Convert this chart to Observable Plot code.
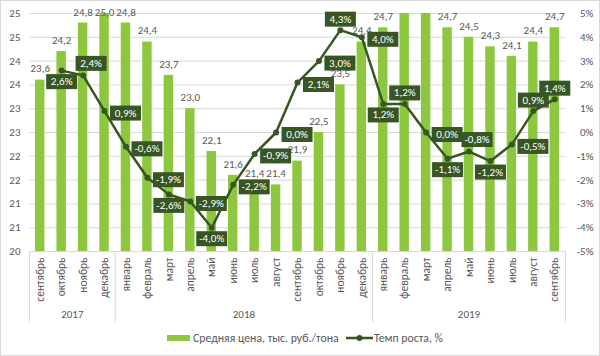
<!DOCTYPE html>
<html><head><meta charset="utf-8">
<script src="https://cdn.jsdelivr.net/npm/d3@7"></script>
<script src="https://cdn.jsdelivr.net/npm/@observablehq/plot@0.6"></script>
<style>
html,body{margin:0;padding:0;background:#fff;}
#wrap{width:598px;height:354px;border:1px solid #d9d9d9;position:relative;overflow:hidden;
  font-family:Carlito,Calibri,"Liberation Sans Narrow",Roboto,sans-serif;color:#595959;}
#legend{position:absolute;left:0;top:330px;height:14px;width:598px;font-size:11.8px;line-height:14px;}
#legend .item{position:absolute;top:0;display:flex;align-items:center;height:14px;white-space:nowrap;}
</style></head><body>
<div id="wrap"><div id="chart"></div><div id="legend"></div></div>
<script>
// ---- data ----
const months = ["сентябрь","октябрь","ноябрь","декабрь","январь","февраль","март","апрель","май","июнь","июль","август","сентябрь","октябрь","ноябрь","декабрь","январь","февраль","март","апрель","май","июнь","июль","август","сентябрь"];
const yearLabels = ["2017","2018","2019"];
const yearMonthCounts = [4, 12, 9];
const prices = [23.6,24.2,24.8,25.0,24.8,24.4,23.7,23.0,22.1,21.6,21.4,21.4,21.9,22.5,23.5,24.4,24.7,25.1,25.1,24.7,24.5,24.3,24.1,24.4,24.7];
const growth = [null,2.6,2.4,0.9,-0.6,-1.9,-2.6,-2.9,-4.0,-2.2,-0.9,0.0,2.1,3.0,4.3,4.0,1.2,1.2,0.0,-1.1,-0.8,-1.2,-0.5,0.9,1.4];
const growthLabelSide = [null,"b","ar","r","r","r","b","r","b","r","r","r","r","r","a","r","b","a","r","b","ar","b","r","a","a"];
const leftTicks = [20,20.5,21,21.5,22,22.5,23,23.5,24,24.5,25];
const rightTicks = [-5,-4,-3,-2,-1,0,1,2,3,4,5];
const seriesNames = ["Средняя цена, тыс. руб./тона","Темп роста, %"];

// ---- styling ----
const GREEN = "#8dc63f", DARK = "#375623", GRID = "#d9d9d9", TEXT = "#595959";
const FONT = 'Carlito, Calibri, "Liberation Sans Narrow", Roboto, sans-serif';
const FS = 11;
const YMIN = 20, YMAX = 25, GMIN = -5, GMAX = 5;
const g2y = g => YMIN + (g - GMIN) / (GMAX - GMIN) * (YMAX - YMIN);
const fmt1 = v => v.toFixed(1).replace(".", ",");

const idx = months.map((_, i) => i);
const gIdx = idx.filter(i => growth[i] != null);
const boundaries = [-0.5];
yearMonthCounts.forEach(c => boundaries.push(boundaries[boundaries.length - 1] + c));
const yearCenters = yearMonthCounts.map((c, k) => boundaries[k] + c / 2);

const sideOffsets = {r: [21, 2], b: [0, 11], a: [0, -11], ar: [8, -12]};
const boxSymbol = {draw(ctx) { ctx.rect(-15.5, -7.5, 31, 15); }};

const labelMarks = Object.entries(sideOffsets).flatMap(([side, [dx, dy]]) => {
  const sub = gIdx.filter(i => growthLabelSide[i] === side);
  return [
    Plot.dot(sub, {x: i => i, y: i => g2y(growth[i]), dx, dy, symbol: boxSymbol, fill: DARK, stroke: null}),
    Plot.text(sub, {x: i => i, y: i => g2y(growth[i]), dx, dy, text: i => fmt1(growth[i]) + "%", fill: "white", fontSize: FS})
  ];
});

const chart = Plot.plot({
  width: 598, height: 326,
  marginLeft: 28, marginRight: 34, marginTop: 12, marginBottom: 76,
  x: {domain: [-0.5, 24.5], axis: null},
  y: {domain: [YMIN, YMAX], axis: null},
  style: {fontFamily: FONT, fontSize: FS + "px", color: TEXT, background: "white", overflow: "visible"},
  marks: [
    Plot.ruleY(leftTicks, {y: d => d, stroke: GRID, strokeWidth: 1}),
    Plot.rectY(idx, {x1: i => i - 0.22, x2: i => i + 0.22, y1: YMIN, y2: i => prices[i], fill: GREEN, clip: true}),
    Plot.axisY({ticks: leftTicks, tickFormat: d => String(Math.round(d)), tickSize: 0, tickPadding: 9, fontSize: FS}),
    Plot.axisY({anchor: "right", ticks: rightTicks.map(g2y), tickFormat: d => Math.round((d - 22.5) * 2) + "%", tickSize: 0, tickPadding: 28, textAnchor: "end", fontSize: FS}),
    Plot.ruleX(boundaries, {x: d => d, y1: YMIN, y2: 18.5, stroke: GRID}),
    Plot.text(idx, {x: i => i, y: YMIN, text: i => months[i], rotate: -90, textAnchor: "end", dy: 6, fontSize: 11.5}),
    Plot.text(yearLabels, {x: (d, k) => yearCenters[k], y: YMIN, dy: 63, text: d => d, fontSize: FS}),
    Plot.text(idx.filter(i => prices[i] <= YMAX), {x: i => i, y: i => Math.min(prices[i] + 0.235, 25.03), text: i => fmt1(prices[i]), fontSize: FS}),
    Plot.line(gIdx, {x: i => i, y: i => g2y(growth[i]), stroke: DARK, strokeWidth: 2.5}),
    Plot.dot(gIdx, {x: i => i, y: i => g2y(growth[i]), r: 3, fill: DARK, stroke: null}),
    ...labelMarks
  ]
});
document.getElementById("chart").appendChild(chart);

// ---- legend ----
const legend = document.getElementById("legend");
legend.innerHTML =
  `<div class="item" style="left:166px"><span style="display:inline-block;width:23px;height:6px;background:${GREEN};margin-right:3px"></span>${seriesNames[0]}</div>` +
  `<div class="item" style="left:345px"><svg width="27" height="8" style="margin-right:1px"><line x1="0" y1="4" x2="27" y2="4" stroke="${DARK}" stroke-width="2.5"/><circle cx="13.5" cy="4" r="3" fill="${DARK}"/></svg>${seriesNames[1]}</div>`;
</script>
</body></html>
